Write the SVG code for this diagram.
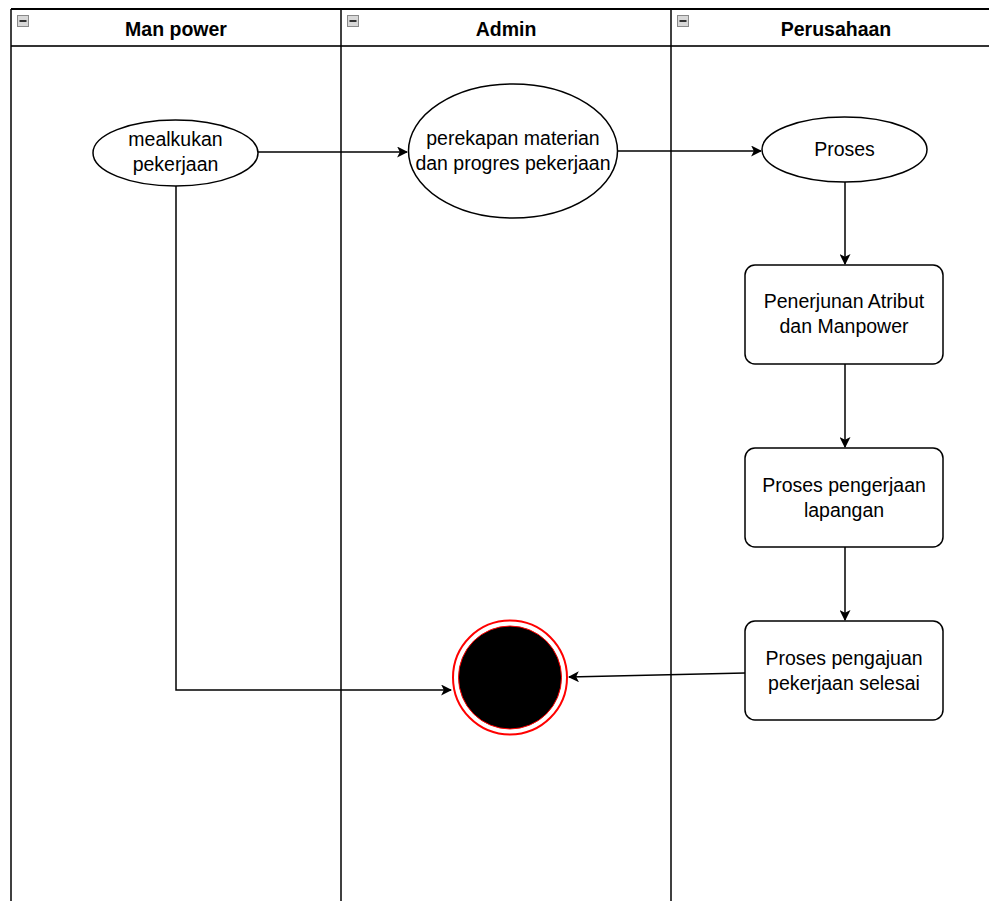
<svg xmlns="http://www.w3.org/2000/svg" width="989" height="901" viewBox="0 0 989 901">
<style>
.lane{fill:none;stroke:#000;stroke-width:1.5}
.hdr{font-family:"Liberation Sans",Arial,sans-serif;font-size:19.5px;font-weight:bold;fill:#000;text-anchor:middle}
.lbl{font-family:"Liberation Sans",Arial,sans-serif;font-size:19.5px;fill:#000;text-anchor:middle}
.node{fill:#fff;stroke:#000;stroke-width:1.5}
.edge{fill:none;stroke:#000;stroke-width:1.5}
.icon{fill:#d8d8d8;stroke:#8a8a8a;stroke-width:1}
</style>
<defs>
<marker id="arr" viewBox="0 0 10 10" refX="9" refY="5" markerWidth="11" markerHeight="11" markerUnits="userSpaceOnUse" orient="auto">
<path d="M0,0 L10,5 L0,10 L2.5,5 Z" fill="#000"/>
</marker>
</defs>
<rect width="989" height="901" fill="#fff"/>
<g id="pool">
<line x1="11" y1="9" x2="989" y2="9" stroke="#000" stroke-width="2"/>
<line x1="11" y1="46" x2="989" y2="46" stroke="#333" stroke-width="2"/>
<line x1="11" y1="9" x2="11" y2="901" class="lane"/>
<line x1="341" y1="9" x2="341" y2="901" class="lane"/>
<line x1="671" y1="9" x2="671" y2="901" class="lane"/>
</g>
<g id="lane-manpower">
<rect x="17.5" y="15.5" width="11" height="11" class="icon"/>
<line x1="19.5" y1="21" x2="26.5" y2="21" stroke="#333" stroke-width="2"/>
<text x="176" y="36" class="hdr">Man power</text>
</g>
<g id="lane-admin">
<rect x="347.5" y="15.5" width="11" height="11" class="icon"/>
<line x1="349.5" y1="21" x2="356.5" y2="21" stroke="#333" stroke-width="2"/>
<text x="506" y="36" class="hdr">Admin</text>
</g>
<g id="lane-perusahaan">
<rect x="677.5" y="15.5" width="11" height="11" class="icon"/>
<line x1="679.5" y1="21" x2="686.5" y2="21" stroke="#333" stroke-width="2"/>
<text x="836" y="36" class="hdr">Perusahaan</text>
</g>
<g id="connectors">
<line x1="258" y1="152" x2="407" y2="152" class="edge" marker-end="url(#arr)"/>
<line x1="617" y1="151" x2="761" y2="151" class="edge" marker-end="url(#arr)"/>
<line x1="845" y1="182" x2="845" y2="264" class="edge" marker-end="url(#arr)"/>
<line x1="845" y1="364" x2="845" y2="447" class="edge" marker-end="url(#arr)"/>
<line x1="845" y1="547" x2="845" y2="620" class="edge" marker-end="url(#arr)"/>
<line x1="745" y1="673" x2="569" y2="677" class="edge" marker-end="url(#arr)"/>
<polyline points="176,186 176,690 451,690" class="edge" marker-end="url(#arr)"/>
</g>
<g id="n1">
<ellipse cx="175.5" cy="153" rx="82.5" ry="33" class="node"/>
<text x="175.5" y="146" class="lbl">mealkukan</text>
<text x="175.5" y="171" class="lbl">pekerjaan</text>
</g>
<g id="n2">
<ellipse cx="513" cy="151" rx="104.5" ry="67" class="node"/>
<text x="513" y="145" class="lbl">perekapan materian</text>
<text x="513" y="170" class="lbl">dan progres pekerjaan</text>
</g>
<g id="n3">
<ellipse cx="844.5" cy="149.5" rx="82.5" ry="32.5" class="node"/>
<text x="844.5" y="156" class="lbl">Proses</text>
</g>
<g id="n4">
<rect x="745" y="265" width="198" height="99" rx="10" class="node"/>
<text x="844" y="308" class="lbl">Penerjunan Atribut</text>
<text x="844" y="333" class="lbl">dan Manpower</text>
</g>
<g id="n5">
<rect x="745" y="448" width="198" height="99" rx="10" class="node"/>
<text x="844" y="492" class="lbl">Proses pengerjaan</text>
<text x="844" y="517" class="lbl">lapangan</text>
</g>
<g id="n6">
<rect x="745" y="621" width="198" height="99" rx="10" class="node"/>
<text x="844" y="665" class="lbl">Proses pengajuan</text>
<text x="844" y="690" class="lbl">pekerjaan selesai</text>
</g>
<g id="end">
<circle cx="510" cy="677.5" r="57" fill="#fff" stroke="#ff0000" stroke-width="2"/>
<circle cx="510" cy="677.5" r="51.5" fill="#000" stroke="#ff0000" stroke-width="1"/>
</g>
</svg>
